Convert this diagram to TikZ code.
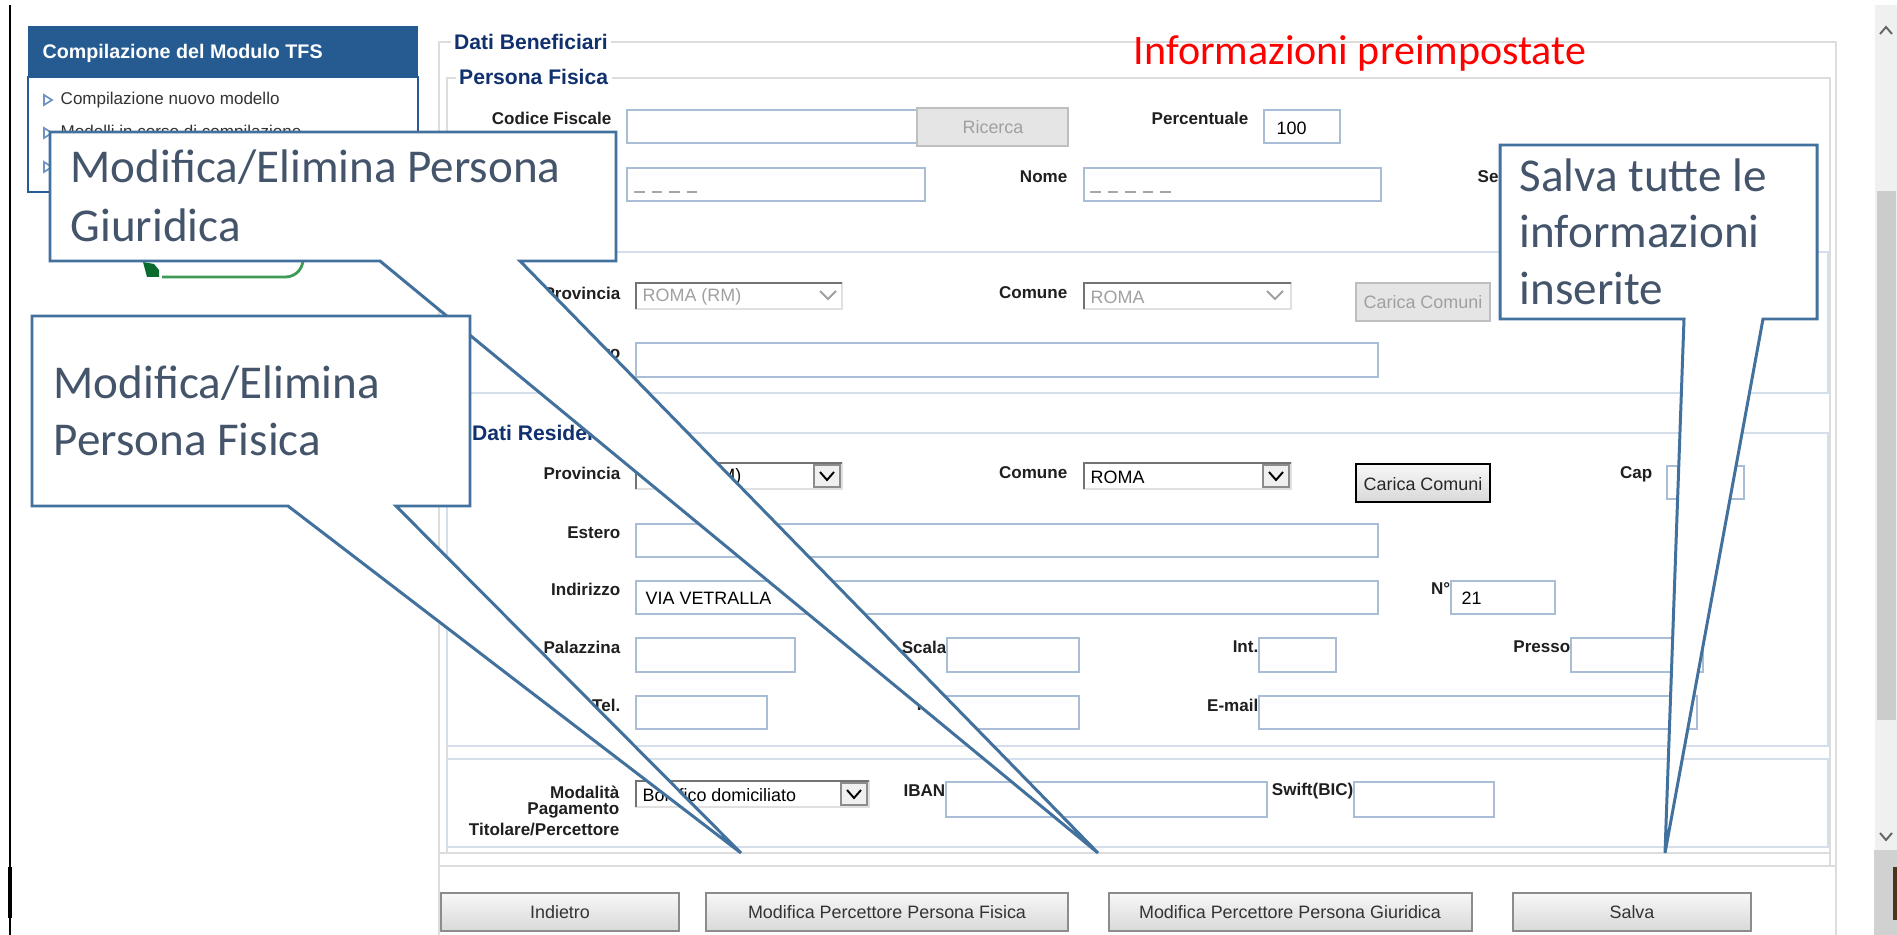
\documentclass[tikz,border=0pt]{standalone}
\usepackage{fontspec}
\usepackage{tikz}
\usetikzlibrary{positioning}

\newfontfamily\calibfont{Carlito}
\newfontfamily\arialfont{Liberation Sans}

\definecolor{callblue}{HTML}{41719C}
\definecolor{calltext}{HTML}{44546A}
\definecolor{fieldblue}{HTML}{A9BDD6}
\definecolor{sectblue}{HTML}{D5DFEB}
\definecolor{legendblue}{HTML}{10306E}
\definecolor{headblue}{HTML}{255B91}
\definecolor{framegray}{HTML}{DDDDDD}
\definecolor{btnborder}{HTML}{8C8C8C}
\definecolor{greyout}{HTML}{A0A0A0}
\definecolor{okgreen}{HTML}{3D9B55}
\definecolor{darkgreen}{HTML}{0B6B2E}
\definecolor{tribule}{HTML}{7093C2}

\tikzset{
  lbl/.style={anchor=east, inner sep=0pt, text=black!88,
    font=\arialfont\bfseries\fontsize{4.85}{5.5}\selectfont},
  legendtxt/.style={anchor=west, inner sep=1pt, fill=white, text=legendblue,
    font=\arialfont\bfseries\fontsize{6}{7}\selectfont},
  field/.style={draw=fieldblue, fill=white, line width=0.45pt},
  val/.style={anchor=west, inner sep=0pt, text=black,
    font=\arialfont\fontsize{5.1}{6}\selectfont},
  dimval/.style={val, text=greyout},
  dropbox/.style={draw=black!12, fill=white, line width=0.6pt},
  inset/.style={draw=black!55, line width=0.8pt},
  btn/.style={draw=btnborder, line width=0.5pt, top color=black!3, bottom color=black!15},
  btntext/.style={inner sep=0pt, text=black!80, font=\arialfont\fontsize{5.1}{6}\selectfont},
  sect/.style={draw=sectblue, line width=0.5pt},
  frameline/.style={draw=framegray, line width=0.6pt},
  chev/.style={line width=0.55pt, line join=miter},
  bubble/.style={draw=callblue, fill=white, line width=0.85pt, line join=miter},
  calltxt/.style={anchor=base west, inner sep=0pt, text=calltext,
    font=\calibfont\fontsize{13.4}{16}\selectfont},
  sideitem/.style={anchor=west, inner sep=0pt, text=black!80,
    font=\arialfont\fontsize{4.85}{5.5}\selectfont},
}

\begin{document}
\begin{tikzpicture}[x=0.1mm, y=-0.1mm]

    \useasboundingbox (0,0) rectangle (1897,935);
    \fill[white] (0,0) rectangle (1897,935);

    %frames
    \draw[frameline] (439,935) -- (439,42) -- (1836,42) -- (1836,935);
    \draw[frameline] (447,853) -- (447,78) -- (1830,78) -- (1830,866);
    \draw[frameline] (439,853) -- (1830,853);
    \draw[frameline] (439,866) -- (1836,866);

    %sections
    \draw[sect] (447,252) rectangle (1828,393);
    \draw[sect] (447,433) rectangle (1828,746);
    \draw[sect] (447,759) rectangle (1828,847);

    %legends
    \node[legendtxt] (benef) at (450,42) {Dati Beneficiari};
    \node[legendtxt] (pfis) at (455,77) {Persona Fisica};
    \node[legendtxt] (resid) at (468,433) {Dati Residenza};

    %Persona fisica
    \node[lbl] (lcf) at (612,118) {Codice Fiscale};
    \draw[field] (627,110) rectangle (917,143);
    \draw[draw=black!25, fill=black!10, line width=0.6pt] (917,108) rectangle (1068,146);
    \node[btntext, text=greyout] (ric) at (993,127) {Ricerca};
    \node[lbl] (lperc) at (1249,118) {Percentuale};
    \draw[field] (1264,110) rectangle (1340,143);
    \node[val] (vperc) at (1276,128) {100};

    \draw[field] (627,168) rectangle (925,201);
    \draw[black!35, dash pattern=on 3pt off 2pt, line width=0.5pt] (634,192) -- (700,192);
    \node[lbl] (lnome) at (1068,177) {Nome};
    \draw[field] (1084,168) rectangle (1381,201);
    \draw[black!35, dash pattern=on 3pt off 2pt, line width=0.5pt] (1090,192) -- (1175,192);
    \node[lbl, anchor=west] (lsesso) at (1477,177) {Sesso};

    %Nascita
    \node[lbl] (lprov1) at (621,293) {Provincia};
    \draw[dropbox] (636,283) rectangle (842,309);
    \draw[inset] (636,309) -- (636,283) -- (842,283);
    \node[dimval] (vprov1) at (642,297) {ROMA (RM)};
    \draw[chev, greyout] (820,291) -- (828,299) -- (836,291);
    \node[lbl] (lcom1) at (1068,293) {Comune};
    \draw[dropbox] (1084,283) rectangle (1291,309);
    \draw[inset] (1084,309) -- (1084,283) -- (1291,283);
    \node[dimval] (vcom1) at (1090,297) {ROMA};
    \draw[chev, greyout] (1267,291) -- (1275,299) -- (1283,291);
    \draw[draw=black!25, fill=black!10, line width=0.6pt] (1356,283) rectangle (1490,321);
    \node[btntext, text=greyout] (car1) at (1423,302) {Carica Comuni};
    \node[lbl] (lest1) at (621,353) {Estero};
    \draw[field] (636,343) rectangle (1378,377);

    %Residenza
    \node[lbl] (lprov2) at (621,473) {Provincia};
    \draw[dropbox] (636,463) rectangle (842,489);
    \draw[inset] (636,489) -- (636,463) -- (842,463);
    \node[val] (vprov2) at (642,477) {ROMA (RM)};
    \draw[draw=black!45, fill=black!6, line width=0.5pt] (814,465) rectangle (840,487);
    \draw[chev, black] (820,472) -- (827,480) -- (834,472);
    \node[lbl] (lcom2) at (1068,473) {Comune};
    \draw[dropbox] (1084,463) rectangle (1291,489);
    \draw[inset] (1084,489) -- (1084,463) -- (1291,463);
    \node[val] (vcom2) at (1090,477) {ROMA};
    \draw[draw=black!45, fill=black!6, line width=0.5pt] (1263,465) rectangle (1289,487);
    \draw[chev, black] (1269,472) -- (1276,480) -- (1283,472);
    \draw[btn, draw=black, line width=0.7pt] (1356,464) rectangle (1490,502);
    \node[btntext, text=black!85] (car2) at (1423,484) {Carica Comuni};
    \node[lbl] (lcap) at (1653,474) {Cap};
    \draw[field] (1667,466) rectangle (1744,499);

    \node[lbl] (lest2) at (621,533) {Estero};
    \draw[field] (636,524) rectangle (1378,557);
    \node[lbl] (lind) at (621,589) {Indirizzo};
    \draw[field] (636,581) rectangle (1378,614);
    \node[val] (vind) at (645,598) {VIA VETRALLA};
    \node[lbl] (lnum) at (1451,589) {N°};
    \draw[field] (1451,581) rectangle (1555,614);
    \node[val] (vnum) at (1461,598) {21};

    \node[lbl] (lpal) at (621,647) {Palazzina};
    \draw[field] (636,638) rectangle (795,672);
    \node[lbl] (lsca) at (947,647) {Scala};
    \draw[field] (947,638) rectangle (1079,672);
    \node[lbl] (lint) at (1259,647) {Int.};
    \draw[field] (1259,638) rectangle (1336,672);
    \node[lbl] (lpre) at (1571,647) {Presso};
    \draw[field] (1571,638) rectangle (1703,672);

    \node[lbl] (ltel) at (621,705) {Tel.};
    \draw[field] (636,696) rectangle (767,729);
    \node[lbl] (lfax) at (947,705) {Fax};
    \draw[field] (947,696) rectangle (1079,729);
    \node[lbl] (lmail) at (1259,705) {E-mail};
    \draw[field] (1259,696) rectangle (1697,729);

    %Pagamento
    \node[lbl] (lmod1) at (620,792) {Modalità};
    \node[lbl] (lmod2) at (620,810) {Pagamento};
    \node[lbl] (lmod3) at (620,829) {Titolare/Percettore};
    \draw[dropbox] (636,781) rectangle (869,807);
    \draw[inset] (636,807) -- (636,781) -- (869,781);
    \node[val] (vmod) at (642,795) {Bonifico domiciliato};
    \draw[draw=black!45, fill=black!6, line width=0.5pt] (841,783) rectangle (867,805);
    \draw[chev, black] (847,790) -- (854,798) -- (861,790);
    \node[lbl] (liban) at (946,791) {IBAN};
    \draw[field] (946,782) rectangle (1267,817);
    \node[lbl] (lswift) at (1354,791) {Swift(BIC)};
    \draw[field] (1354,782) rectangle (1494,817);

    %buttons
    \draw[btn] (441,893) rectangle (679,931);
    \node[btntext] (bind) at (560,912) {Indietro};
    \draw[btn] (706,893) rectangle (1068,931);
    \node[btntext] (bpf) at (887,912) {Modifica Percettore Persona Fisica};
    \draw[btn] (1109,893) rectangle (1472,931);
    \node[btntext] (bpg) at (1290,912) {Modifica Percettore Persona Giuridica};
    \draw[btn] (1513,893) rectangle (1751,931);
    \node[btntext] (bsal) at (1632,912) {Salva};

    %scrollbar
    \fill[black!6] (1875,5) rectangle (1897,935);
    \fill[black!20] (1877,191) rectangle (1896,720);
    \draw[chev, black!60] (1880,34) -- (1886,27) -- (1892,34);
    \draw[chev, black!60] (1880,833) -- (1886,840) -- (1892,833);
    \fill[black!18] (1874,850) rectangle (1897,935);
    \fill[brown!40!black] (1893,867) rectangle (1897,920);

    %left edge
    \draw[black, line width=0.6pt] (10,5) -- (10,935);
    \draw[black, line width=1pt] (10,867) -- (10,918);

    %sidebar
    \fill[headblue] (28,26) rectangle (418,77);
    \draw[headblue, line width=0.7pt, fill=white] (28,77) rectangle (418,192);
    \node[anchor=base west, inner sep=0pt, text=white, font=\arialfont\bfseries\fontsize{5.6}{6.5}\selectfont] (head) at (42,59) {Compilazione del Modulo TFS};
    \draw[tribule, line width=0.5pt] (44,95) -- (52,100) -- (44,105) -- cycle;
    \node[sideitem] (item1) at (60,100) {Compilazione nuovo modello};
    \draw[tribule, line width=0.5pt] (44,128) -- (52,133) -- (44,138) -- cycle;
    \node[sideitem] (item2) at (60,133) {Modelli in corso di compilazione};
    \draw[tribule, line width=0.5pt] (44,162) -- (52,167) -- (44,172) -- cycle;

    %green tab
    \draw[okgreen, line width=0.8pt, rounded corners=5] (162,277) -- (303,277) -- (303,240);
    \fill[darkgreen] (143,262) -- (154,264) -- (159,270) -- (159,277) -- (147,277) -- cycle;

    %callouts
    \draw[bubble] (50,132) -- (616,132) -- (616,261) -- (520,261) -- (1098,853) -- (380,261) -- (50,261) -- cycle;
    \node[calltxt] (giu1) at (70,183) {Modifica/Elimina Persona};
    \node[calltxt] (giu2) at (70,242) {Giuridica};

    \draw[bubble] (32,316) -- (470,316) -- (470,506) -- (396,506) -- (741,853) -- (288,506) -- (32,506) -- cycle;
    \node[calltxt] (fis1) at (53,399) {Modifica/Elimina};
    \node[calltxt] (fis2) at (53,456) {Persona Fisica};

    \draw[bubble] (1500,145) -- (1817,145) -- (1817,319) -- (1763,319) -- (1665,853) -- (1684,319) -- (1500,319) -- cycle;
    \node[calltxt] (sal1) at (1519,192) {Salva tutte le};
    \node[calltxt] (sal2) at (1519,248) {informazioni};
    \node[calltxt] (sal3) at (1519,305) {inserite};

    %title
    \node[anchor=base west, inner sep=0pt, text=red, font=\calibfont\fontsize{11.95}{14}\selectfont] (preset) at (1133,65) {Informazioni preimpostate};

\end{tikzpicture}
\end{document}
